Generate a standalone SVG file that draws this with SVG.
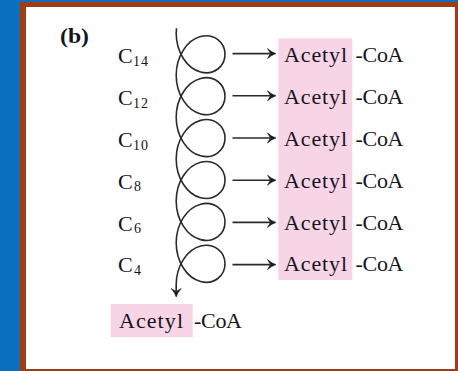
<svg xmlns="http://www.w3.org/2000/svg" width="458" height="371" viewBox="0 0 458 371">
<style>
.lbl{font-family:"Liberation Serif","Times New Roman",serif;font-size:22px;fill:#141420}
.sub{font-size:14px;letter-spacing:1px}
.line{fill:none;stroke:#2a2a2a;stroke-width:1.6}
.hl{fill:#F8D5E6}
</style>
<defs>
<marker id="head" markerUnits="userSpaceOnUse" markerWidth="12" markerHeight="12" refX="4" refY="5" orient="auto" overflow="visible">
<path d="M10 5 Q5.5 3.6 1.5 0 L4.5 5 L1.5 10 Q5.5 6.4 10 5 Z" fill="#1a1a1a" stroke="#1a1a1a" stroke-width="0.6" stroke-linejoin="round"/>
</marker>
</defs>
<g id="frame">
<rect x="0" y="0" width="458" height="371" fill="#0A6FBF"/>
<rect x="20" y="2" width="438" height="369" fill="#A33B14"/>
<rect x="26" y="7" width="429" height="362" fill="#FFFFFF"/>
</g>
<g id="panel-label"><text class="lbl" x="60" y="43" font-weight="bold" font-size="19" textLength="29" lengthAdjust="spacingAndGlyphs">(b)</text></g>
<g id="highlight"><rect class="hl" x="278.3" y="38.3" width="74" height="241.7"/></g>
<g id="connectors">
<path class="line" marker-end="url(#head)" d="M176.5 28.2 L176.2 33.35
C176.2 52.41 187.12 68.54 200.6 72.03 C214.08 75.52 225 66.38 225 54.3 C225 42.22 214.08 33.08 200.6 36.57 C187.12 40.06 176.2 56.19 176.2 75.25
C176.2 94.31 187.12 110.44 200.6 113.93 C214.08 117.42 225 108.28 225 96.2 C225 84.12 214.08 74.98 200.6 78.47 C187.12 81.96 176.2 98.09 176.2 117.15
C176.2 136.21 187.12 152.34 200.6 155.83 C214.08 159.32 225 150.18 225 138.1 C225 126.02 214.08 116.88 200.6 120.37 C187.12 123.86 176.2 139.99 176.2 159.05
C176.2 178.11 187.12 194.24 200.6 197.73 C214.08 201.22 225 192.08 225 180 C225 167.92 214.08 158.78 200.6 162.27 C187.12 165.76 176.2 181.89 176.2 200.95
C176.2 220.01 187.12 236.14 200.6 239.63 C214.08 243.12 225 233.98 225 221.9 C225 209.82 214.08 200.68 200.6 204.17 C187.12 207.66 176.2 223.79 176.2 242.85
C176.2 261.91 187.12 278.04 200.6 281.53 C214.08 285.02 225 275.88 225 263.8 C225 251.72 214.08 242.58 200.6 246.07 C187.12 249.56 176.2 265.69 176.2 284.75
L176.2 291"/>
<path class="line" marker-end="url(#head)" d="M232.5 53.6 H270"/>
<path class="line" marker-end="url(#head)" d="M232.5 95.8 H270"/>
<path class="line" marker-end="url(#head)" d="M232.5 138 H270"/>
<path class="line" marker-end="url(#head)" d="M232.5 180.2 H270"/>
<path class="line" marker-end="url(#head)" d="M232.5 222.4 H270"/>
<path class="line" marker-end="url(#head)" d="M232.5 264.6 H270"/>
</g>
<g id="c14"><text class="lbl" x="118" y="63.3">C<tspan class="sub" x="133" y="66">14</tspan></text></g>
<g id="c12"><text class="lbl" x="118" y="105.1">C<tspan class="sub" x="133" y="107.8">12</tspan></text></g>
<g id="c10"><text class="lbl" x="118" y="146.9">C<tspan class="sub" x="133" y="149.6">10</tspan></text></g>
<g id="c8"><text class="lbl" x="118" y="188.7">C<tspan class="sub" x="134" y="191.4">8</tspan></text></g>
<g id="c6"><text class="lbl" x="118" y="230.5">C<tspan class="sub" x="134" y="233.2">6</tspan></text></g>
<g id="c4"><text class="lbl" x="118" y="272.3">C<tspan class="sub" x="134" y="275">4</tspan></text></g>
<g id="acoa1"><text class="lbl" x="284" y="62.3" textLength="63" lengthAdjust="spacing">Acetyl</text><text class="lbl" x="355.5" y="62.3" textLength="48" lengthAdjust="spacing">-CoA</text></g>
<g id="acoa2"><text class="lbl" x="284" y="104.1" textLength="63" lengthAdjust="spacing">Acetyl</text><text class="lbl" x="355.5" y="104.1" textLength="48" lengthAdjust="spacing">-CoA</text></g>
<g id="acoa3"><text class="lbl" x="284" y="145.9" textLength="63" lengthAdjust="spacing">Acetyl</text><text class="lbl" x="355.5" y="145.9" textLength="48" lengthAdjust="spacing">-CoA</text></g>
<g id="acoa4"><text class="lbl" x="284" y="187.7" textLength="63" lengthAdjust="spacing">Acetyl</text><text class="lbl" x="355.5" y="187.7" textLength="48" lengthAdjust="spacing">-CoA</text></g>
<g id="acoa5"><text class="lbl" x="284" y="229.5" textLength="63" lengthAdjust="spacing">Acetyl</text><text class="lbl" x="355.5" y="229.5" textLength="48" lengthAdjust="spacing">-CoA</text></g>
<g id="acoa6"><text class="lbl" x="284" y="271.3" textLength="63" lengthAdjust="spacing">Acetyl</text><text class="lbl" x="355.5" y="271.3" textLength="48" lengthAdjust="spacing">-CoA</text></g>
<g id="acoa-final"><rect class="hl" x="110.7" y="304" width="82" height="33"/><text class="lbl" x="119" y="328.3" textLength="64" lengthAdjust="spacing">Acetyl</text><text class="lbl" x="194" y="328.3" textLength="48" lengthAdjust="spacing">-CoA</text></g>
</svg>
